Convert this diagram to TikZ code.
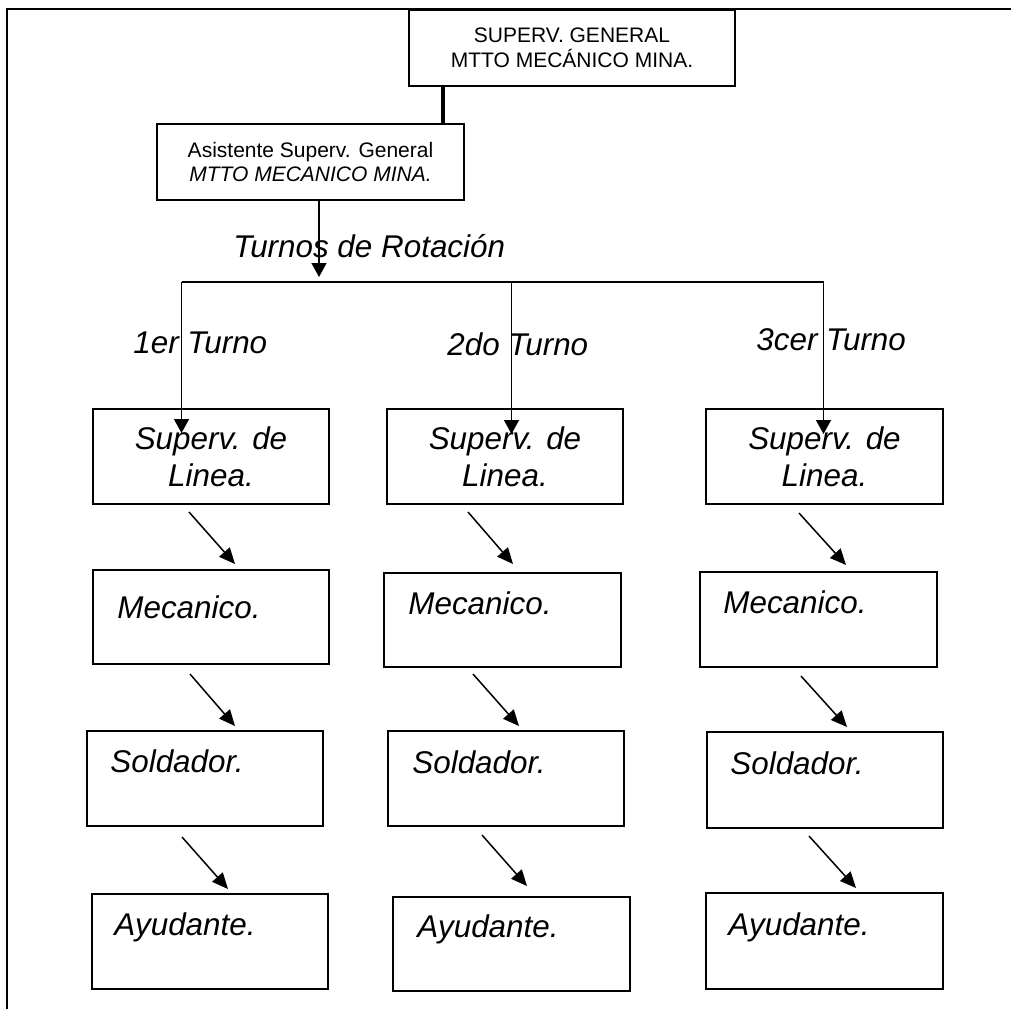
\documentclass[tikz,border=0pt]{standalone}
\usepackage{fontspec}
\setmainfont{Liberation Sans}
\usetikzlibrary{arrows.meta}
\begin{document}
\begin{tikzpicture}[x=0.5pt,y=-0.5pt,
  box/.style={draw, line width=1.15pt, inner sep=0pt, align=center},
  sz/.style 2 args={minimum width=#1*0.5pt, minimum height=#2*0.5pt},
  small/.style={font=\fontsize{10.5}{12.25}\selectfont},
  big/.style={font=\fontsize{15.7}{18.5}\selectfont\itshape},
  txt/.style={big, inner sep=0pt, anchor=base west},
  frameline/.style={line width=1pt},
  thickconn/.style={line width=1.7pt},
  conn/.style={line width=0.7pt},
  arr/.style={line width=0.7pt, -{Triangle[length=7pt,width=7.5pt]}},
  darr/.style={line width=0.75pt, -{Triangle[length=8pt,width=7pt]}},
]
\useasboundingbox (0,0) rectangle (1011,1009);

% page frame
\draw[frameline] (1011,9) -- (7,9) -- (7,1009);

% top boxes
\node[box, sz={326}{76}, small] (sg) at (572,48) {SUPERV. GENERAL\\MTTO MEC\'ANICO MINA.};
\node[box, sz={307}{76}, small] (as) at (310.5,162) {Asistente Superv. General\\\textit{MTTO MECANICO MINA.}};

\coordinate (c0) at (443,86);
\draw[thickconn] (c0) -- (c0 |- as.north);

\coordinate (tr) at (319,277);
\draw[arr] (tr |- as.south) -- (tr);
\node[txt] (rot) at (233,257) {Turnos de Rotaci\'on};

% bus
\coordinate (b1) at (181.5,282);
\coordinate (b2) at (511.5,282);
\coordinate (b3) at (823.5,282);
\draw[conn] (b1) -- (b3);
\coordinate (t1) at (181.5,433);
\coordinate (t2) at (511.5,434);
\coordinate (t3) at (823.5,434);

\node[txt] (l1) at (133,353) {1er Turno};
\node[txt] (l2) at (447,355) {2do Turno};
\node[txt] (l3) at (756,350) {3cer Turno};

% row 1
\node[box, sz={236}{95}, big] (s1) at (211,456.5) {Superv. de\\Linea.};
\node[box, sz={236}{95}, big] (s2) at (505,456.5) {Superv. de\\Linea.};
\node[box, sz={237}{95}, big] (s3) at (824.5,456.5) {Superv. de\\Linea.};

\draw[arr] (b1) -- (t1);
\draw[arr] (b2) -- (t2);
\draw[arr] (b3) -- (t3);

% row 2
\node[box, sz={236}{94}] (m1) at (211,617) {};
\node[box, sz={237}{94}] (m2) at (502.5,620) {};
\node[box, sz={237}{95}] (m3) at (818.5,619.5) {};
\node[txt] (mt1) at (117,618) {Mecanico.};
\node[txt] (mt2) at (408,614) {Mecanico.};
\node[txt] (mt3) at (723,613) {Mecanico.};

% row 3
\node[box, sz={236}{95}] (w1) at (205,778.5) {};
\node[box, sz={236}{95}] (w2) at (506,778.5) {};
\node[box, sz={236}{96}] (w3) at (825,780) {};
\node[txt] (wt1) at (110,772) {Soldador.};
\node[txt] (wt2) at (412,773) {Soldador.};
\node[txt] (wt3) at (730,774) {Soldador.};

% row 4
\node[box, sz={236}{95}] (y1) at (210,941.5) {};
\node[box, sz={237}{94}] (y2) at (511.5,944) {};
\node[box, sz={237}{96}] (y3) at (824.5,941) {};
\node[txt] (yt1) at (114,935) {Ayudante.};
\node[txt] (yt2) at (417,937) {Ayudante.};
\node[txt] (yt3) at (728,935) {Ayudante.};

% diagonal arrows
\coordinate (d11a) at (189,512); \coordinate (d11b) at (235,564);
\coordinate (d12a) at (468,512); \coordinate (d12b) at (513,564);
\coordinate (d13a) at (799,513); \coordinate (d13b) at (846,565);
\coordinate (d21a) at (190,674); \coordinate (d21b) at (235,726);
\coordinate (d22a) at (473,674); \coordinate (d22b) at (519,726);
\coordinate (d23a) at (801,676); \coordinate (d23b) at (847,727);
\coordinate (d31a) at (182,837); \coordinate (d31b) at (228,889);
\coordinate (d32a) at (482,835); \coordinate (d32b) at (527,886);
\coordinate (d33a) at (809,836); \coordinate (d33b) at (856,888);
\foreach \i in {11,12,13,21,22,23,31,32,33}{
  \draw[darr] (d\i a) -- (d\i b);
}
\end{tikzpicture}
\end{document}
